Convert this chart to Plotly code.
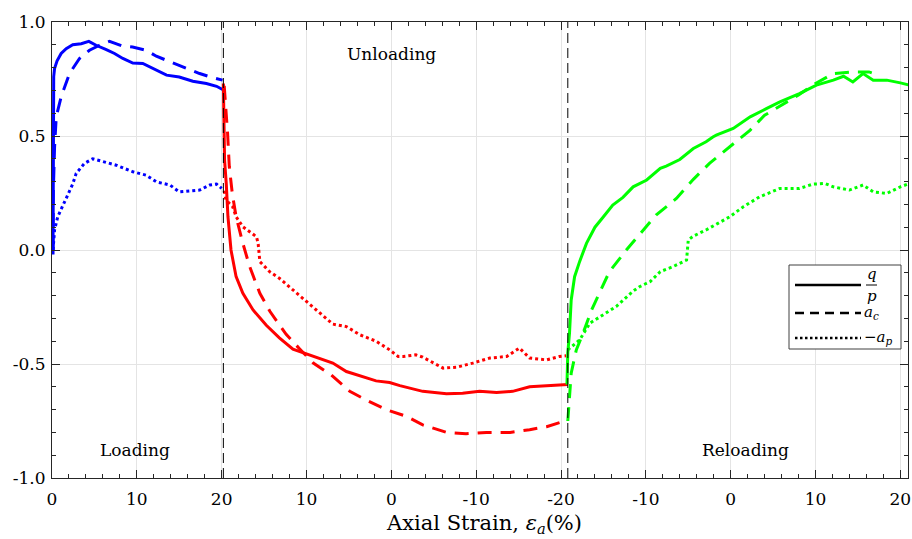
import plotly.graph_objects as go

# ---- data (x = position along load path, in axis units; ticks relabelled) ----
tick_pos = [0, 10, 20, 30, 40, 50, 60, 70, 80, 90, 100]
tick_text = ["0", "10", "20", "10", "0", "-10", "-20", "-10", "0", "10", "20"]
ytick_vals = [-1.0, -0.5, 0.0, 0.5, 1.0]
ytick_text = ["-1.0", "-0.5", "0.0", "0.5", "1.0"]
phase_bounds = [20.2, 60.8]
phase_labels = ["Loading", "Unloading", "Reloading"]
x_title = "Axial Strain, <i>\u03b5</i><sub><i>a</i></sub>(%)"

load_qp_x = [0.12, 0.12, 0.14, 0.2, 0.3, 0.6, 1.08, 1.67, 2.45, 3.44, 4.34, 5.2, 6.4, 7.37,
             8.35, 9.53, 10.7, 11.9, 13.5, 15.0, 16.6, 18.2, 19.4, 20.1]
load_qp_y = [-0.02, 0.3, 0.6, 0.76, 0.796, 0.83, 0.862, 0.883, 0.90, 0.905, 0.915, 0.898,
             0.879, 0.862, 0.84, 0.82, 0.818, 0.796, 0.767, 0.759, 0.74, 0.73, 0.718, 0.704]
load_ac_x = [0.12, 0.15, 0.3, 0.5, 1.08, 2.06, 3.24, 4.42, 5.6, 6.78, 8.35, 9.5, 11.1, 12.3,
             13.5, 15.4, 17.4, 19.0, 20.1]
load_ac_y = [0.0, 0.25, 0.45, 0.584, 0.672, 0.774, 0.84, 0.876, 0.898, 0.915, 0.894, 0.89,
             0.876, 0.85, 0.832, 0.803, 0.774, 0.755, 0.745]
load_ap_x = [0.12, 0.3, 0.68, 1.67, 2.45, 2.85, 3.83, 4.8, 6.0, 7.57, 9.53, 11.1, 12.3, 13.9,
             15.0, 16.2, 17.4, 18.6, 19.4, 20.0]
load_ap_y = [0.0, 0.088, 0.146, 0.225, 0.29, 0.336, 0.38, 0.40, 0.387, 0.372, 0.343, 0.328,
             0.299, 0.285, 0.255, 0.26, 0.263, 0.285, 0.289, 0.27]

unl_qp_x = [20.2, 20.25, 20.34, 20.54, 20.74, 21.1, 21.7, 22.5, 23.7, 25.26, 26.8, 28.4, 30.0,
            31.5, 33.1, 34.7, 36.7, 38.2, 39.8, 41.0, 43.7, 46.5, 48.4, 50.4, 52.4, 54.3, 56.3,
            58.3, 60.4, 60.8]
unl_qp_y = [0.73, 0.5, 0.394, 0.292, 0.146, 0.0, -0.117, -0.19, -0.263, -0.33, -0.385, -0.435,
            -0.456, -0.474, -0.496, -0.533, -0.558, -0.574, -0.581, -0.595, -0.62, -0.63, -0.628,
            -0.62, -0.625, -0.62, -0.60, -0.595, -0.59, -0.59]
unl_ac_x = [20.3, 20.5, 20.7, 20.9, 21.25, 21.7, 22.5, 23.3, 24.5, 25.7, 27.6, 29.2, 30.8, 32.9,
            35.1, 37.2, 39.4, 41.8, 43.7, 46.5, 48.8, 51.2, 54.0, 56.3, 58.3, 60.0]
unl_ac_y = [0.72, 0.62, 0.51, 0.365, 0.248, 0.146, 0.029, -0.073, -0.19, -0.27, -0.37, -0.434,
            -0.496, -0.548, -0.62, -0.661, -0.70, -0.73, -0.767, -0.80, -0.806, -0.80, -0.80,
            -0.788, -0.775, -0.755]
unl_ap_x = [20.3, 20.5, 21.3, 21.7, 22.5, 23.3, 24.1, 24.3, 24.4, 24.5, 25.65, 26.8, 28.4, 30.0,
            31.5, 33.1, 34.7, 36.3, 38.2, 39.8, 40.8, 41.4, 42.9, 43.7, 46.1, 47.7, 49.6, 51.6,
            53.6, 55.1, 56.3, 58.3, 59.8, 60.6]
unl_ap_y = [0.26, 0.219, 0.19, 0.146, 0.102, 0.08, 0.058, 0.029, -0.029, -0.051, -0.095, -0.124,
            -0.175, -0.226, -0.27, -0.325, -0.336, -0.372, -0.40, -0.438, -0.467, -0.467, -0.46,
            -0.47, -0.518, -0.514, -0.496, -0.474, -0.467, -0.43, -0.474, -0.482, -0.467, -0.464]

rel_qp_x = [60.7, 60.8, 61.0, 61.2, 61.6, 62.2, 63.0, 63.4, 64.0, 65.0, 66.1, 67.3, 68.5, 70.1,
            71.7, 72.4, 74.0, 75.6, 76.4, 77.1, 77.9, 78.3, 80.3, 82.3, 84.2, 85.8, 88.1, 90.1,
            92.1, 93.3, 94.4, 95.6, 96.8, 98.4, 100.0, 101.1]
rel_qp_y = [-0.59, -0.45, -0.365, -0.219, -0.117, -0.05, 0.029, 0.058, 0.1, 0.146, 0.197, 0.231,
            0.277, 0.307, 0.358, 0.368, 0.397, 0.445, 0.46, 0.475, 0.496, 0.504, 0.533, 0.584,
            0.62, 0.65, 0.686, 0.723, 0.745, 0.762, 0.737, 0.774, 0.745, 0.745, 0.733, 0.723]
rel_ac_x = [60.8, 61.2, 61.8, 62.6, 63.6, 64.6, 65.7, 67.7, 69.5, 71.2, 73.6, 75.6, 77.5, 79.9,
            82.3, 84.0, 86.0, 88.0, 90.0, 92.1, 94.4, 96.3, 96.9]
rel_ac_y = [-0.75, -0.54, -0.438, -0.365, -0.263, -0.18, -0.095, 0.0, 0.08, 0.153, 0.226, 0.31,
            0.38, 0.452, 0.526, 0.591, 0.635, 0.68, 0.73, 0.774, 0.781, 0.781, 0.774]
rel_ap_x = [60.8, 62.2, 63.4, 64.6, 66.5, 68.5, 69.3, 70.5, 71.7, 73.2, 74.8, 74.9, 75.0, 75.6,
            77.1, 78.5, 79.9, 81.5, 83.4, 85.8, 88.1, 89.7, 91.1, 92.1, 94.0, 95.6, 96.8, 98.4,
            100.0, 101.1]
rel_ap_y = [-0.438, -0.394, -0.321, -0.292, -0.248, -0.18, -0.16, -0.139, -0.095, -0.073, -0.044,
            0.0, 0.044, 0.061, 0.088, 0.117, 0.146, 0.19, 0.233, 0.27, 0.27, 0.289, 0.292, 0.277,
            0.263, 0.285, 0.255, 0.248, 0.277, 0.292]

# ---- styling ----
W, H = 912, 539
PLOT_L, PLOT_T, PLOT_R, PLOT_B = 52, 22, 908, 478      # plot area in page pixels
ML, MT, MR, MB = PLOT_L, PLOT_T, W - PLOT_R, H - PLOT_B
FONT = "DejaVu Serif"
AXC = "#262626"
GRID = "#e4e4e4"
SOLID, DASH, DOT = "solid", "14px,9px", "3px,3px"
LW = 3

series = [
    (load_qp_x, load_qp_y, "#0000ff", SOLID), (load_ac_x, load_ac_y, "#0000ff", DASH),
    (load_ap_x, load_ap_y, "#0000ff", DOT),
    (unl_qp_x, unl_qp_y, "#ff0000", SOLID), (unl_ac_x, unl_ac_y, "#ff0000", DASH),
    (unl_ap_x, unl_ap_y, "#ff0000", DOT),
    (rel_qp_x, rel_qp_y, "#00ff00", SOLID), (rel_ac_x, rel_ac_y, "#00ff00", DASH),
    (rel_ap_x, rel_ap_y, "#00ff00", DOT),
]

fig = go.Figure()
for xs, ys, col, dash in series:
    fig.add_trace(go.Scatter(x=xs, y=ys, mode="lines", showlegend=False,
                             line=dict(color=col, width=LW, dash=dash)))

for xb in phase_bounds:
    fig.add_shape(type="line", xref="x", yref="paper", x0=xb, x1=xb, y0=0, y1=1,
                  line=dict(color="black", width=1, dash="10px,5px"), layer="above")

tfont = dict(family=FONT, size=17, color="black")
for xa, ya, lab in [(9.8, -0.876, phase_labels[0]), (40, 0.86, phase_labels[1]),
                    (81.8, -0.876, phase_labels[2])]:
    fig.add_annotation(x=xa, y=ya, xref="x", yref="y", text=lab, showarrow=False, font=tfont,
                       xanchor="center", yanchor="middle")

# ---- pixel -> paper helpers for decorations ----
PW, PH = PLOT_R - PLOT_L, PLOT_B - PLOT_T
def px(xp):
    return (xp - PLOT_L) / PW
def py(yp):
    return (PLOT_B - yp) / PH

# x-axis title
fig.add_annotation(xref="paper", yref="paper", x=px(484), y=py(524), text=x_title,
                   xanchor="center", yanchor="middle", showarrow=False,
                   font=dict(family=FONT, size=21, color="black"))

# custom legend
fig.add_shape(type="rect", xref="paper", yref="paper", x0=px(789), x1=px(901), y0=py(349),
              y1=py(265), line=dict(color="#404040", width=1), fillcolor="white", layer="above")
leg = [(285, SOLID), (313, "9px,6px"), (338, "2.5px,2.5px")]
for yy, dsh in leg:
    fig.add_shape(type="line", xref="paper", yref="paper", x0=px(795), x1=px(861), y0=py(yy),
                  y1=py(yy), line=dict(color="black", width=2.5, dash=dsh), layer="above")
fig.add_shape(type="line", xref="paper", yref="paper", x0=px(866), x1=px(877), y0=py(285),
              y1=py(285), line=dict(color="black", width=1), layer="above")
lfont = dict(family=FONT, size=15, color="black")
fig.add_annotation(xref="paper", yref="paper", x=px(871.5), y=py(284), xanchor="center",
                   yanchor="bottom", text="<i>q</i>", showarrow=False, font=lfont, borderpad=0)
fig.add_annotation(xref="paper", yref="paper", x=px(871.5), y=py(286), xanchor="center",
                   yanchor="top", text="<i>p</i>", showarrow=False, font=lfont, borderpad=0)
fig.add_annotation(xref="paper", yref="paper", x=px(863), y=py(313), xanchor="left",
                   yanchor="middle", text="<i>a</i><sub><i>c</i></sub>", showarrow=False,
                   font=lfont, borderpad=0)
fig.add_annotation(xref="paper", yref="paper", x=px(863), y=py(338), xanchor="left",
                   yanchor="middle", text="\u2212<i>a</i><sub><i>p</i></sub>", showarrow=False,
                   font=lfont, borderpad=0)

axis_common = dict(showline=True, linecolor=AXC, linewidth=1, mirror="ticks", ticks="inside",
                   tickcolor=AXC, ticklen=8, showgrid=True, gridcolor=GRID, gridwidth=1,
                   zeroline=False, automargin=False,
                   tickfont=dict(family=FONT, size=17, color="black"))

fig.update_layout(
    width=W, height=H, margin=dict(l=ML, r=MR, t=MT, b=MB),
    paper_bgcolor="white", plot_bgcolor="white",
    xaxis=dict(range=[0, 100.9], tickmode="array", tickvals=tick_pos, ticktext=tick_text,
               minor=dict(tickmode="linear", tick0=0, dtick=2, ticks="inside", ticklen=4,
                          tickcolor=AXC, showgrid=False),
               ticklabelstandoff=6, **axis_common),
    yaxis=dict(range=[-1, 1], tickmode="array", tickvals=ytick_vals, ticktext=ytick_text,
               minor=dict(tickmode="linear", tick0=0, dtick=0.1, ticks="inside", ticklen=4,
                          tickcolor=AXC, showgrid=False),
               ticklabelstandoff=2, **axis_common),
)

# place the figure at the page's top-left corner with no scrollbars
page_fix = ("document.documentElement.style.overflow='hidden';"
            "document.body.style.margin='0';document.body.style.overflow='hidden';")
fig.write_html("out.html", post_script=page_fix, config={"displayModeBar": False})
